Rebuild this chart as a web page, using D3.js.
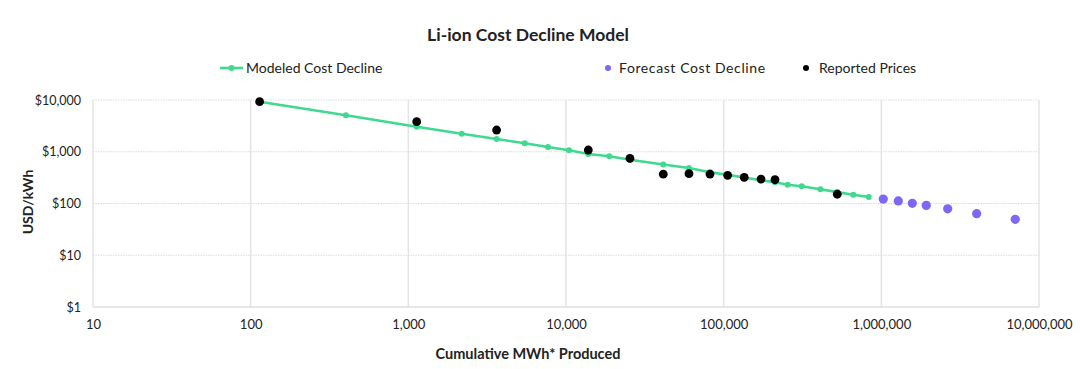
<!DOCTYPE html>
<html>
<head>
<meta charset="utf-8">
<script src="https://cdn.jsdelivr.net/npm/d3@7"></script>
<style>
  html, body { margin: 0; padding: 0; background: #fff; }
  svg { display: block; }
  text { font-family: Lato, "Open Sans", sans-serif; fill: #222; }
</style>
</head>
<body>
<svg id="chart" width="1080" height="369"></svg>
<script>
// ---- Data ----
const modeledX = [114, 402, 1130, 2180, 3630, 5470, 7690, 10450, 13850, 18820, 25450, 41400, 60260, 81900, 106000, 135000, 172500, 211600, 254700, 312400, 410200, 525600, 663800, 831800];
const modeledY = [9250, 5060, 3050, 2230, 1760, 1460, 1235, 1067, 905, 817, 702, 567, 485, 403, 357, 318, 282, 257, 231, 215, 188, 166, 148, 134];

const forecastX = [1029000, 1281000, 1572000, 1928000, 2636000, 4024000, 7070000];
const forecastY = [122, 112, 101, 92, 79, 63.5, 49.5];

const reportedX = [114, 1130, 3630, 13850, 25450, 41400, 60260, 81900, 106000, 135000, 172500, 211600, 525600];
const reportedY = [9270, 3810, 2630, 1080, 747, 368, 377, 371, 351, 321, 297, 288, 151];

const xTicks = [10, 100, 1000, 10000, 100000, 1000000, 10000000];
const yTicks = [1, 10, 100, 1000, 10000];

const titleText = "Li-ion Cost Decline Model";
const xTitle = "Cumulative MWh* Produced";
const yTitle = "USD/kWh";
const legendLabels = ["Modeled Cost Decline", "Forecast Cost Decline", "Reported Prices"];

// ---- Styles ----
const GREEN = "#3fd990";
const PURPLE = "#7f66f7";
const BLACK = "#000";

const svg = d3.select("#chart");
const plot = { left: 93, right: 1039, top: 100, bottom: 307 };

const x = d3.scaleLog().domain([10, 1e7]).range([plot.left, plot.right]);
const y = d3.scaleLog().domain([1, 10000]).range([plot.bottom, plot.top]);

// Title
svg.append("text").attr("x", 528).attr("y", 41).attr("text-anchor", "middle")
  .style("font-size", "17.5px").style("font-weight", "bold").text(titleText);

// Grid: vertical
const g = svg.append("g");
g.selectAll("line.vg").data(xTicks).join("line")
  .attr("x1", d => x(d)).attr("x2", d => x(d))
  .attr("y1", plot.top).attr("y2", plot.bottom)
  .attr("stroke", "#e2e5e7").attr("stroke-width", 1.5);
// Grid: horizontal dotted
g.selectAll("line.hg").data(yTicks.filter(d => d > 1)).join("line")
  .attr("x1", plot.left).attr("x2", plot.right)
  .attr("y1", d => y(d)).attr("y2", d => y(d))
  .attr("stroke", "#d9dde0").attr("stroke-width", 1.2).attr("stroke-dasharray", "1.5,1");
// bottom axis line
g.append("line").attr("x1", plot.left).attr("x2", plot.right)
  .attr("y1", plot.bottom).attr("y2", plot.bottom)
  .attr("stroke", "#dcdfe1").attr("stroke-width", 1.5);

// Axes labels
const xAxis = d3.axisBottom(x).tickValues(xTicks).tickFormat(d3.format(",")).tickSize(0).tickPadding(12);
const xa = svg.append("g").attr("transform", `translate(0,${plot.bottom + 1})`).call(xAxis);
xa.select(".domain").remove();
xa.selectAll("text").style("font-size", "13px").style("fill", "#222").style("font-family", "Lato, sans-serif");

const yAxis = d3.axisLeft(y).tickValues(yTicks).tickFormat(d => "$" + d3.format(",")(d)).tickSize(0).tickPadding(12);
const ya = svg.append("g").attr("transform", `translate(${plot.left},0)`).call(yAxis);
ya.select(".domain").remove();
ya.selectAll("text").style("font-size", "12.5px").style("fill", "#222").style("font-family", "Lato, sans-serif");

// Axis titles
svg.append("text").attr("x", 528).attr("y", 359).attr("text-anchor", "middle")
  .style("font-size", "14.5px").style("font-weight", "bold").text(xTitle);
svg.append("text").attr("transform", "translate(33,202) rotate(-90)").attr("text-anchor", "middle")
  .style("font-size", "14px").style("font-weight", "bold").text(yTitle);

// Modeled line + markers
const modeled = modeledX.map((d, i) => [d, modeledY[i]]);
svg.append("path").datum(modeled)
  .attr("d", d3.line().x(d => x(d[0])).y(d => y(d[1])))
  .attr("fill", "none").attr("stroke", GREEN).attr("stroke-width", 2.6);
svg.append("g").selectAll("circle").data(modeled).join("circle")
  .attr("cx", d => x(d[0])).attr("cy", d => y(d[1])).attr("r", 3).attr("fill", GREEN);

// Forecast
svg.append("g").selectAll("circle").data(forecastX.map((d, i) => [d, forecastY[i]])).join("circle")
  .attr("cx", d => x(d[0])).attr("cy", d => y(d[1])).attr("r", 4.6).attr("fill", PURPLE);

// Reported
svg.append("g").selectAll("circle").data(reportedX.map((d, i) => [d, reportedY[i]])).join("circle")
  .attr("cx", d => x(d[0])).attr("cy", d => y(d[1])).attr("r", 4.4).attr("fill", BLACK);

// Legend
const ly = 68;
const leg = svg.append("g");
leg.append("line").attr("x1", 220).attr("x2", 243).attr("y1", ly).attr("y2", ly)
  .attr("stroke", GREEN).attr("stroke-width", 2.6);
leg.append("circle").attr("cx", 231.5).attr("cy", ly).attr("r", 3).attr("fill", GREEN);
leg.append("text").attr("x", 246).attr("y", ly + 5).style("font-size", "14px").text(legendLabels[0]);
leg.append("circle").attr("cx", 608).attr("cy", ly).attr("r", 3).attr("fill", PURPLE);
leg.append("text").attr("x", 619).attr("y", ly + 5).style("font-size", "14px").style("letter-spacing", "0.6px").text(legendLabels[1]);
leg.append("circle").attr("cx", 806).attr("cy", ly).attr("r", 3).attr("fill", BLACK);
leg.append("text").attr("x", 819).attr("y", ly + 5).style("font-size", "14px").text(legendLabels[2]);
</script>
</body>
</html>
